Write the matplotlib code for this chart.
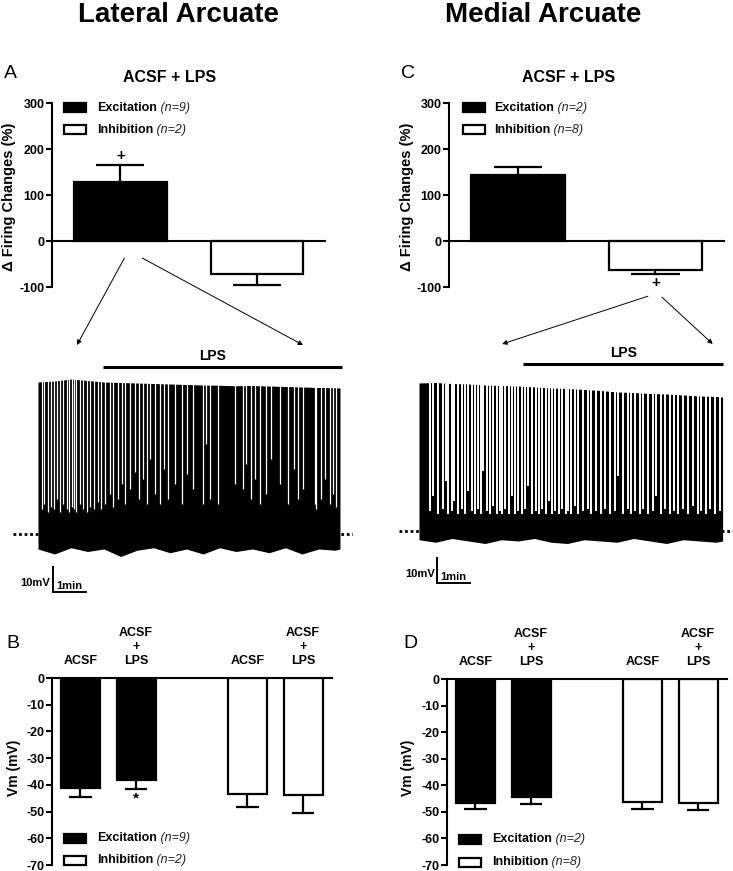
import matplotlib
matplotlib.use('Agg')
import matplotlib.pyplot as plt
from matplotlib.patches import Rectangle, ConnectionPatch
from matplotlib.text import Annotation

plt.rcParams['font.family'] = ['Liberation Sans', 'DejaVu Sans']
plt.rcParams['axes.unicode_minus'] = False

W, H = 733, 871

# ---- firing change bars (A, C) ----
fire_pos = [0, 1]
lat_fire = [128, -72]
lat_fire_err = [37, 24]
med_fire = [143, -63]
med_fire_err = [18, 9]
lat_n = ['(n=9)', '(n=2)']
med_n = ['(n=2)', '(n=8)']
groups = ['Excitation', 'Inhibition']

# ---- membrane potential bars (B, D) ----
vm_pos = [0, 1, 3, 4]
vm_labels = ['ACSF', 'ACSF\n+\nLPS', 'ACSF', 'ACSF\n+\nLPS']
lat_vm = [-41.2, -38.2, -43.4, -43.8]
lat_vm_err = [3.4, 3.4, 4.9, 6.7]
med_vm = [-46.7, -44.4, -46.3, -46.7]
med_vm_err = [2.2, 2.6, 2.6, 2.6]

# ---- example recordings (time in min, voltage in mV above resting level) ----
lat_env_t = [0, 0.5, 1, 1.5, 2, 2.5, 3, 3.5, 4, 4.5, 5, 5.5, 6, 6.5, 7, 7.5, 8, 8.5, 9, 9.15]
lat_env_peak = [60.8, 61.2, 62, 61.4, 60.8, 60.6, 60.4, 60.2, 60, 59.8,
                59.6, 59.5, 59.3, 59.4, 59.2, 59, 58.8, 58.6, 58.5, 58.4]
lat_env_low = [-6, -8, -5.5, -7, -6, -9, -6.5, -5.5, -7.5, -6,
               -8, -5.5, -7, -6, -7.5, -5.5, -8, -6, -6.5, -6]
# white gaps between spikes: position and lower end
lat_gap_t = [0.11, 0.19, 0.29, 0.39, 0.49, 0.58, 0.67, 0.77, 0.87, 0.95, 1.04, 1.09, 1.15,
             1.27, 1.37, 1.48, 1.58, 1.71, 1.81, 1.91, 2.03, 2.18, 2.28, 2.43, 2.55, 2.64,
             2.79, 2.94, 3.06, 3.19, 3.29, 3.39, 3.55, 3.70, 3.83, 3.95, 4.15, 4.35, 4.51,
             4.70, 5.00, 5.10, 5.20, 5.45, 5.96, 6.21, 6.31, 6.46, 6.57, 6.72, 6.92, 7.07,
             7.32, 7.58, 7.76, 7.88, 8.03, 8.38, 8.43, 8.58, 8.69, 8.84, 8.94, 9.04]
lat_gap_low = [10, 12, 9, 11, 10, 14, 9, 12, 10, 9, 11, 10, 9,
               12, 10, 9, 11, 10, 13, 10, 12, 16, 11, 14, 20, 12,
               18, 25, 14, 22, 12, 30, 16, 12, 26, 14, 20, 12, 24,
               18, 12, 36, 14, 12, 20, 18, 28, 14, 22, 12, 16, 30,
               20, 12, 26, 14, 18, 12, 10, 14, 22, 12, 16, 11]
lat_lps = [1.97, 9.21]

med_env_t = [0, 0.5, 1, 1.5, 2, 2.5, 3, 3.5, 4, 4.5, 5, 5.5, 6, 6.5, 7, 7.5, 8, 8.5, 9, 9.2]
med_env_peak = [59.2, 59.4, 59, 58.8, 58.4, 58.2, 58, 57.6, 57.2, 57,
                56.6, 56.2, 55.6, 55.4, 55, 54.8, 54.4, 54, 53.8, 53.6]
med_env_low = [-3.5, -4.5, -3, -4, -5, -3.5, -4, -3, -4.5, -5,
               -3.5, -4, -4.5, -3, -4, -5, -3.5, -4, -4.5, -4]
med_gap_t = [0.33, 0.43, 0.59, 0.74, 0.81, 0.89, 0.99, 1.07, 1.17, 1.29, 1.39, 1.49, 1.60,
             1.70, 1.80, 1.88, 1.95, 2.05, 2.15, 2.25, 2.35, 2.45, 2.52, 2.61, 2.73, 2.83,
             2.91, 3.01, 3.11, 3.21, 3.31, 3.42, 3.54, 3.64, 3.72, 3.84, 3.94, 4.04, 4.12,
             4.24, 4.34, 4.45, 4.52, 4.62, 4.72, 4.82, 4.97, 5.12, 5.22, 5.37, 5.52, 5.63,
             5.78, 5.93, 6.03, 6.18, 6.33, 6.43, 6.54, 6.69, 6.79, 6.94, 7.09, 7.19, 7.34,
             7.45, 7.60, 7.73, 7.85, 8.00, 8.15, 8.30, 8.45, 8.55, 8.71, 8.81, 8.96, 9.11]
med_gap_low = [8, 14, 7, 9, 20, 7, 8, 12, 7, 9, 7, 16, 8,
               7, 9, 7, 24, 8, 7, 10, 7, 8, 7, 9, 7, 14,
               7, 8, 7, 9, 18, 7, 8, 7, 9, 7, 12, 7, 8,
               7, 9, 7, 8, 7, 10, 7, 8, 9, 7, 8, 7, 9,
               7, 8, 22, 7, 9, 7, 8, 7, 9, 7, 8, 14, 7,
               9, 7, 8, 7, 9, 7, 10, 7, 8, 7, 9, 7, 8]
med_lps = [3.15, 9.21]


fig = plt.figure(figsize=(W / 100, H / 100), dpi=100)


def add_ax(x0, y0, x1, y1):
    return fig.add_axes([x0 / W, 1 - y1 / H, (x1 - x0) / W, (y1 - y0) / H])


def fx(x):
    return x / W


def fy(y):
    return 1 - y / H


def bold_ticks(ax):
    ax.tick_params(axis='y', length=4, width=1.5, labelsize=9, direction='out', pad=1.5)
    for lab in ax.get_yticklabels():
        lab.set_fontweight('bold')
    ax.set_xticks([])


def fire_panel(ax, vals, errs, label_x):
    ax.bar(fire_pos, vals, width=0.68, color=['black', 'white'], edgecolor='black',
           linewidth=1.6, zorder=2)
    for x, v, e in zip(fire_pos, vals, errs):
        end = v + e if v > 0 else v - e
        ax.plot([x, x], [v, end], color='black', lw=1.6, zorder=1)
        ax.plot([x - 0.175, x + 0.175], [end, end], color='black', lw=1.6,
                solid_capstyle='butt')
    ax.axhline(0, color='black', lw=1.5, zorder=3)
    ax.set_xlim(-0.5, 1.505)
    ax.set_ylim(-100, 300)
    ax.set_yticks([-100, 0, 100, 200, 300])
    for s in ['top', 'right', 'bottom']:
        ax.spines[s].set_visible(False)
    ax.spines['left'].set_linewidth(1.5)
    bold_ticks(ax)
    ax.set_ylabel('Δ Firing Changes (%)', fontsize=10.5, fontweight='bold', va='center')
    ax.yaxis.set_label_coords(label_x, 0.49)


def vm_panel(ax, vals, errs, label_x):
    ax.bar(vm_pos, vals, width=0.7, color=['black', 'black', 'white', 'white'],
           edgecolor='black', linewidth=1.6, zorder=2)
    for x, v, e in zip(vm_pos, vals, errs):
        ax.plot([x, x], [v, v - e], color='black', lw=1.6, zorder=1)
        ax.plot([x - 0.2, x + 0.2], [v - e, v - e], color='black', lw=1.6,
                solid_capstyle='butt')
    for x, lab in zip(vm_pos, vm_labels):
        ax.annotate(lab, (x, 0), xytext=(0, 8), textcoords='offset points', ha='center',
                    va='bottom', fontsize=9, fontweight='bold', linespacing=1.2,
                    annotation_clip=False)
    ax.set_xlim(-0.51, 4.52)
    ax.set_ylim(-70, 0)
    ax.set_yticks(range(-70, 1, 10))
    for s in ['right', 'bottom']:
        ax.spines[s].set_visible(False)
    ax.spines['left'].set_linewidth(1.5)
    ax.spines['top'].set_linewidth(1.5)
    bold_ticks(ax)
    ax.set_ylabel('Vm (mV)', fontsize=10, fontweight='bold', va='center')
    ax.yaxis.set_label_coords(label_x, 0.52)


def trace_panel(ax, t, peak, low, gap_t, gap_low, gap_lw, lps, lps_x, sb_x, sb_y):
    ax.axhline(0, color='black', lw=2, ls=(0, (1, 1)), zorder=0)
    ax.fill_between(t, low, peak, color='black', lw=0, zorder=1)
    ax.vlines(gap_t, gap_low, max(peak) + 2, color='white', lw=gap_lw, zorder=2)
    ax.plot(lps, [67, 67], color='black', lw=2.2, solid_capstyle='butt')
    ax.text(lps_x, 68.5, 'LPS', ha='center', va='bottom', fontsize=10, fontweight='bold')
    # scale bar: 10 mV, 1 min
    ax.plot([sb_x, sb_x, sb_x + 1], [sb_y + 10, sb_y, sb_y], color='black', lw=1.4,
            solid_joinstyle='miter')
    ax.text(sb_x - 0.08, sb_y + 3.5, '10mV', ha='right', va='center', fontsize=8,
            fontweight='bold')
    ax.text(sb_x + 0.5, sb_y + 0.6, '1min', ha='center', va='bottom', fontsize=8,
            fontweight='bold')
    ax.set_axis_off()


def legend_px(x0, y_rows, tx, ns):
    for y, fc, g, n in zip(y_rows, ['black', 'white'], groups, ns):
        fig.add_artist(Rectangle((fx(x0), fy(y + 4.5)), 22 / W, 9 / H, facecolor=fc,
                                 edgecolor='black', lw=1.6, transform=fig.transFigure))
        t1 = fig.text(fx(tx), fy(y), g, fontsize=9, fontweight='bold', va='center')
        fig.add_artist(Annotation(' ' + n, xy=(1, 0.5), xycoords=t1, va='center',
                                  ha='left', fontsize=9, style='italic',
                                  color='#222222'))


# ---- axes ----
axA = add_ax(52, 103, 326, 287)
axC = add_ax(449, 103, 725, 287)
axB = add_ax(52, 678, 332, 865)
axD = add_ax(447, 679, 727, 865)
axT1 = add_ax(13, 330, 353, 600)
axT2 = add_ax(399, 330, 733, 600)

fire_panel(axA, lat_fire, lat_fire_err, -0.157)
fire_panel(axC, med_fire, med_fire_err, -0.152)
vm_panel(axB, lat_vm, lat_vm_err, -0.135)
vm_panel(axD, med_vm, med_vm_err, -0.14)

axA.text(0, 170, '+', ha='center', va='bottom', fontsize=11, fontweight='bold')
axC.text(1, -76, '+', ha='center', va='top', fontsize=11, fontweight='bold')
axB.text(1, -42.5, '*', ha='center', va='top', fontsize=11, fontweight='bold')

trace_panel(axT1, lat_env_t, lat_env_peak, lat_env_low, lat_gap_t, lat_gap_low, 0.9,
            lat_lps, 5.3, 0.45, -23.2)
axT1.set_xlim(-0.758, 9.545)
axT1.set_ylim(-26.4, 81.6)
trace_panel(axT2, med_env_t, med_env_peak, med_env_low, med_gap_t, med_gap_low, 1.4,
            med_lps, 6.2, 0.55, -20.8)
axT2.set_xlim(-0.606, 9.515)
axT2.set_ylim(-27.6, 80.4)

# arrows from the bar to the example trace
for xa, ya, xb, yb, a, b in [(0.03, -37, 1.18, 75.6, axA, axT1),
                             (0.16, -37, 8.03, 75.6, axA, axT1),
                             (0.945, -120, 2.52, 74.8, axC, axT2),
                             (1.047, -122, 8.9, 74.8, axC, axT2)]:
    fig.add_artist(ConnectionPatch(xyA=(xa, ya), coordsA=a.transData, xyB=(xb, yb),
                                   coordsB=b.transData, arrowstyle='-|>', mutation_scale=7,
                                   lw=0.7, color='black'))

# ---- titles and legends ----
fig.text(fx(178), fy(15), 'Lateral Arcuate', ha='center', va='center', fontsize=20,
         fontweight='bold')
fig.text(fx(543), fy(15), 'Medial Arcuate', ha='center', va='center', fontsize=20,
         fontweight='bold')
fig.text(fx(170), fy(77), 'ACSF + LPS', ha='center', va='center', fontsize=11.5,
         fontweight='bold')
fig.text(fx(569), fy(77), 'ACSF + LPS', ha='center', va='center', fontsize=11.5,
         fontweight='bold')
for lbl, x, y in [('A', 10, 73), ('C', 408, 73), ('B', 13, 643), ('D', 410, 643)]:
    fig.text(fx(x), fy(y), lbl, ha='center', va='center', fontsize=14)

legend_px(64, [108, 130], 97, lat_n)
legend_px(463, [108, 130], 494, med_n)
legend_px(64, [838, 860], 97, lat_n)
legend_px(459, [839, 862], 492, med_n)

fig.savefig('out.png', dpi=100)
